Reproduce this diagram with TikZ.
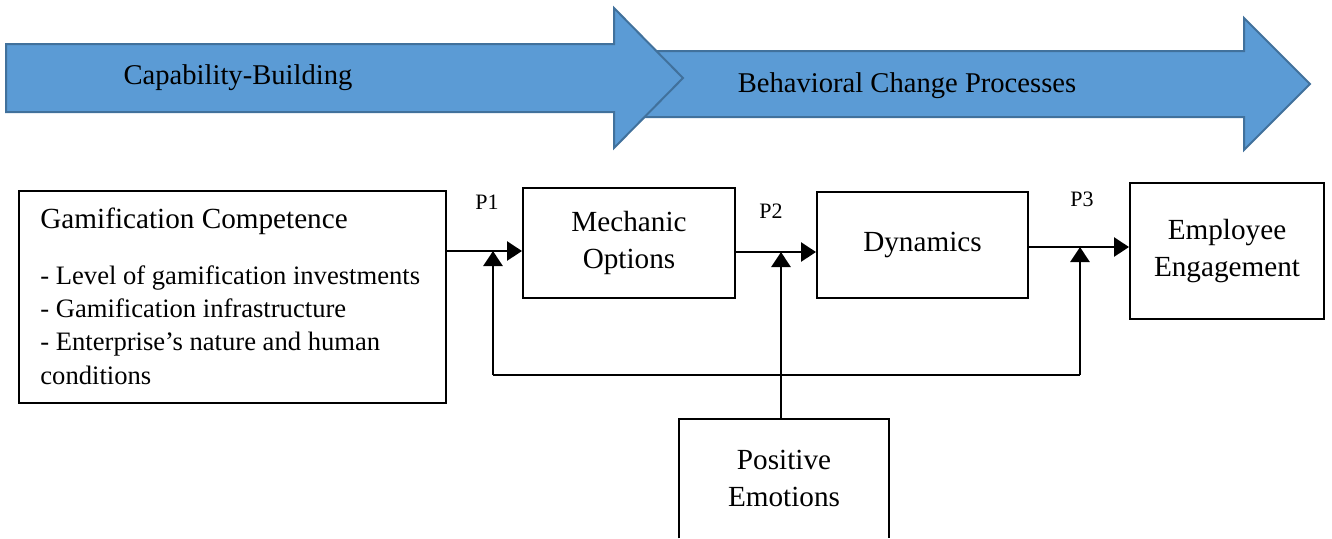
\documentclass[tikz,border=0pt]{standalone}
\usepackage{fontspec}
\setmainfont{Liberation Serif}
\usetikzlibrary{arrows.meta,calc}
\definecolor{bandfill}{HTML}{5B9BD5}
\definecolor{bandline}{HTML}{41719C}
\begin{document}
\begin{tikzpicture}[x=0.5pt,y=-0.5pt,
  band/.style={fill=bandfill,draw=bandline,line width=1pt,line join=miter},
  bandtext/.style={font=\fontsize{14.3}{17}\selectfont,inner sep=0pt},
  box/.style={draw=black,line width=1pt,fill=white,align=center,inner sep=0pt,
    font=\fontsize{14.6}{18.5}\selectfont},
  conn/.style={line width=1.35pt},
  arr/.style={conn,-{Triangle[length=7.5pt,width=9.5pt]}},
  plabel/.style={font=\fontsize{11}{13}\selectfont,inner sep=0pt}]
\useasboundingbox (0,0) rectangle (1332,538);
% band arrows
\draw[band] (640,51) -- (1244,51) -- (1244,18) -- (1310,84) -- (1244,150) -- (1244,117) -- (640,117) -- cycle;
\draw[band] (6,44) -- (614,44) -- (614,8) -- (683,78) -- (614,148) -- (614,112) -- (6,112) -- cycle;
\node[bandtext] (cb) at (238,78) {Capability-Building};
\node[bandtext] (bc) at (907,86) {Behavioral Change Processes};
% boxes (sizes in pt = px/2)
\node[box,minimum width=213.5pt,minimum height=106pt] (gc) at (232.5,297) {};
\node[inner sep=0pt,anchor=base west,font=\fontsize{14.6}{17}\selectfont] (gctitle) at (40,228) {Gamification Competence};
\node[inner sep=0pt,anchor=north west,align=left,font=\fontsize{13.3}{16.7}\selectfont] (gclist) at (40,265)
  {- Level of gamification investments\\- Gamification infrastructure\\- Enterprise’s nature and human\\conditions};
\node[box,minimum width=106pt,minimum height=55pt] (mo) at (629,243) {Mechanic\\Options};
\node[box,minimum width=105.5pt,minimum height=53pt] (dyn) at (922.5,245) {Dynamics};
\node[box,minimum width=97pt,minimum height=68pt] (ee) at (1227,251) {Employee\\Engagement};
\node[align=center,inner sep=0pt,minimum width=105pt,minimum height=59.5pt,
  font=\fontsize{14.6}{18.5}\selectfont] (pe) at (784,478.5) {Positive\\Emotions};
\draw[line width=1pt] (pe.south west) -- (pe.north west) -- (pe.north east) -- (pe.south east);
% junctions
\coordinate (p1) at (493,251);
\coordinate (p2) at (781,252);
\coordinate (p3) at (1080,247);
\coordinate (j) at (781,375);
% labels
\node[plabel] (l1) at (487,202) {P1};
\node[plabel] (l2) at (771,211) {P2};
\node[plabel] (l3) at (1082,199) {P3};
% connectors
\draw[arr] (gc.east |- p1) -- (mo.west |- p1);
\draw[arr] (mo.east |- p2) -- (dyn.west |- p2);
\draw[arr] (dyn.east |- p3) -- (ee.west |- p3);
\draw[conn] (p1 |- j) -- (p3 |- j);
\draw[arr] (p1 |- j) -- (p1);
\draw[arr] (p3 |- j) -- (p3);
\draw[arr] (p2 |- pe.north) -- (p2);
\end{tikzpicture}
\end{document}
